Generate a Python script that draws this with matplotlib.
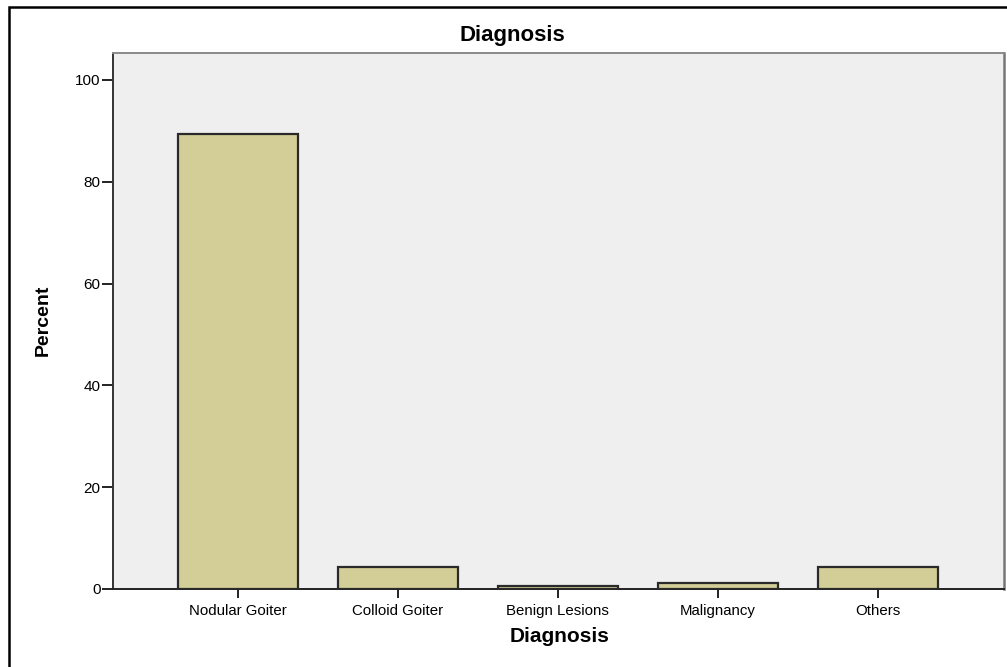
import matplotlib
matplotlib.use("Agg")
import matplotlib.pyplot as plt
from matplotlib.patches import Rectangle

categories = ["Nodular Goiter", "Colloid Goiter", "Benign Lesions", "Malignancy", "Others"]
percent = [89.3, 4.4, 0.65, 1.25, 4.4]
yticks = [0, 20, 40, 60, 80, 100]

plt.rcParams["font.family"] = ["Liberation Sans", "DejaVu Sans"]

W, H = 1007, 667
fig = plt.figure(figsize=(W / 100, H / 100), dpi=100)
fig.patch.set_facecolor("white")

# plot area in pixel coords: left 113, right 1004, top 53, bottom 589
ax = fig.add_axes([113 / W, 1 - 589 / H, (1004 - 113) / W, (589 - 53) / H])
ax.set_facecolor("#efefef")

x = list(range(len(categories)))
ax.bar(x, percent, width=0.75, color="#d3ce98", edgecolor="#2a2a2a", linewidth=1.6, zorder=3)

ax.set_xlim(-0.78, 4.79)
ax.set_ylim(0, 105.3)
ax.set_xticks(x)
ax.set_xticklabels(categories, fontsize=10.8)
ax.set_yticks(yticks)
ax.set_yticklabels([str(t) for t in yticks], fontsize=11)
ax.tick_params(axis="y", direction="out", length=8, width=1.4, color="#222222", pad=1)
ax.tick_params(axis="x", direction="out", length=6.5, width=1.4, color="#222222", pad=4.5)

ax.spines["left"].set_color("#333333")
ax.spines["left"].set_linewidth(1.4)
ax.spines["bottom"].set_color("#222222")
ax.spines["bottom"].set_linewidth(1.4)
ax.spines["top"].set_color("#8a8a8a")
ax.spines["top"].set_linewidth(1.4)
ax.spines["right"].set_color("#777777")
ax.spines["right"].set_linewidth(1.8)

fig.text(43 / W, 1 - 320 / H, "Percent", fontsize=14, fontweight="bold",
         rotation=90, ha="center", va="center")
fig.text(560 / W, 1 - 637 / H, "Diagnosis", fontsize=15, fontweight="bold",
         ha="center", va="center")
fig.text(512 / W, 1 - 36 / H, "Diagnosis", fontsize=16, fontweight="bold",
         ha="center", va="center")

# outer frame (cropped at right and bottom)
fig.patches.append(Rectangle((9 / W, -0.05), 1.1, 1 - 7 / H + 0.05, transform=fig.transFigure,
                             fill=False, edgecolor="black", linewidth=1.8))

fig.savefig("out.png", dpi=100)
